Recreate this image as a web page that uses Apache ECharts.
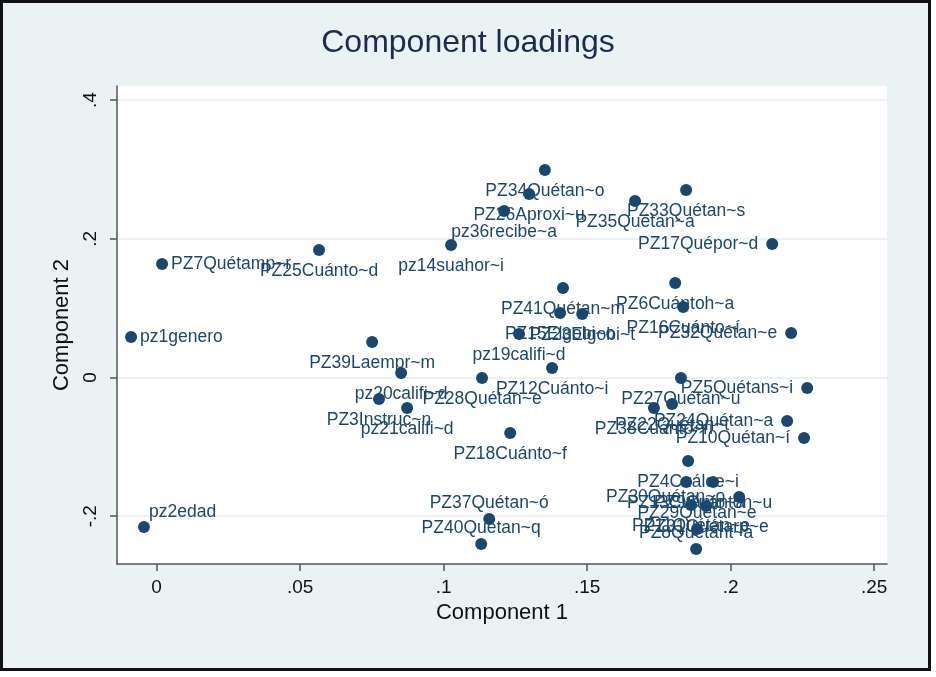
<!DOCTYPE html>
<html>
<head>
<meta charset="utf-8">
<title>Component loadings</title>
<script src="https://cdn.jsdelivr.net/npm/echarts@6/dist/echarts.min.js"></script>
<style>
  html, body { margin: 0; padding: 0; background: #ffffff; }
  #chart { width: 936px; height: 677px; }
</style>
</head>
<body>
<div id="chart"></div>
<script>
// Variable names (abbreviated as Stata shows them)
const varNames = [
  'pz1genero', 'pz2edad', 'PZ3Instruc~n', 'PZ4Cuálee~i', 'PZ5Quétans~i',
  'PZ6Cuántoh~a', 'PZ7Quétamp~r', 'PZ8Quétant~a', 'PZ9Cuánton~u', 'PZ10Quétan~í',
  'PZ11Quétan~e', 'PZ12Cuánto~i', 'PZ13Cuánto~a', 'pz14suahor~i', 'PZ15Elgobi~o',
  'PZ16Cuánto~í', 'PZ17Quépor~d', 'PZ18Cuánto~f', 'pz19califi~d', 'pz20califi~d',
  'pz21califi~d', 'PZ22Quétan~t', 'PZ23Elgobi~t', 'PZ24Quétan~a', 'PZ25Cuánto~d',
  'PZ26Aproxi~u', 'PZ27Quétan~u', 'PZ28Quétan~e', 'PZ29Quétan~e', 'PZ30Quétan~o',
  'PZ31Quétarp~e', 'PZ32Quétan~e', 'PZ33Quétan~s', 'PZ34Quétan~o', 'PZ35Quétan~a',
  'pz36recibe~a', 'PZ37Quétan~ó', 'PZ38Cuánto~n', 'PZ39Laempr~m', 'PZ40Quétan~q',
  'PZ41Quétan~m'
];

// Loadings on the first component
const component1 = [
  -0.0089, -0.0044, 0.0775, 0.1852, 0.2267,
  0.1807, 0.0019, 0.1880, 0.1939, 0.2256,
  0.1862, 0.1378, 0.1845, 0.1026, 0.1406,
  0.1835, 0.2145, 0.1232, 0.1263, 0.0852,
  0.0873, 0.1796, 0.1483, 0.2197, 0.0566,
  0.1298, 0.1827, 0.1134, 0.1883, 0.2030,
  0.1915, 0.2211, 0.1845, 0.1353, 0.1667,
  0.1211, 0.1159, 0.1733, 0.0751, 0.1131,
  0.1416
];

// Loadings on the second component
const component2 = [
  0.0584, -0.2155, -0.0310, -0.1204, -0.0151,
  0.1362, 0.1636, -0.2473, -0.1507, -0.0872,
  -0.1838, 0.0137, -0.1507, 0.1910, 0.0930,
  0.1016, 0.1925, -0.0800, 0.0627, 0.0065,
  -0.0440, -0.0382, 0.0916, -0.0627, 0.1838,
  0.2646, -0.0007, -0.0007, -0.2184, -0.1723,
  -0.1853, 0.0642, 0.2703, 0.2992, 0.2545,
  0.2401, -0.2040, -0.0440, 0.0512, -0.2401,
  0.1290
];

// Tick values for both axes
const xTicks = [0, 0.05, 0.1, 0.15, 0.2, 0.25];
const yTicks = [-0.2, 0, 0.2, 0.4];

// Marker-label placement (clock positions); anything not listed sits below its marker
const labelSide = {
  'pz1genero': 'right', 'PZ7Quétamp~r': 'right', 'pz2edad': 'topright',
  'PZ5Quétans~i': 'left', 'PZ10Quétan~í': 'left', 'PZ17Quépor~d': 'left',
  'PZ24Quétan~a': 'left', 'PZ30Quétan~o': 'left', 'PZ32Quétan~e': 'left',
  'PZ8Quétant~a': 'top', 'PZ29Quétan~e': 'top', 'PZ37Quétan~ó': 'top',
  'PZ40Quétan~q': 'top'
};

const navy = '#1a476f';
const fontFamily = '"Liberation Sans", Arial, Helvetica, sans-serif';

// Stata-style number format: drop the leading zero
function stataNum(v) {
  const r = Math.round(v * 1000) / 1000;
  if (r === 0) return '0';
  let s = String(Math.abs(r)).replace(/^0/, '');
  return (r < 0 ? '-' : '') + s;
}

function labelFor(side) {
  switch (side) {
    case 'right': return { position: 'right', distance: 3 };
    case 'left': return { position: 'left', distance: 8 };
    case 'top': return { position: 'top', distance: 1 };
    case 'topright': return { position: [11, -9], align: 'left', verticalAlign: 'middle' };
    default: return { position: 'bottom', distance: 6 };
  }
}

const points = varNames.map((name, i) => ({
  name: name,
  value: [component1[i], component2[i]],
  label: labelFor(labelSide[name])
}));

const chart = echarts.init(document.getElementById('chart'), null, { renderer: 'canvas' });

chart.setOption({
  backgroundColor: '#ffffff',
  animation: false,
  graphic: [{
    type: 'rect',
    z: -10,
    silent: true,
    shape: { x: 1.5, y: 1.5, width: 928, height: 668 },
    style: { fill: '#eaf2f3', stroke: '#111111', lineWidth: 3 }
  }],
  title: {
    text: 'Component loadings',
    left: 'center',
    top: 22,
    textStyle: { fontFamily: fontFamily, fontSize: 32, fontWeight: 'normal', color: '#1a2d4d' }
  },
  grid: {
    left: 117, right: 49, top: 86, bottom: 113,
    show: true, backgroundColor: '#ffffff', borderWidth: 0
  },
  xAxis: {
    type: 'value',
    min: -0.0138, max: 0.2545,
    name: 'Component 1',
    nameLocation: 'middle',
    nameGap: 38,
    nameTextStyle: { fontFamily: fontFamily, fontSize: 22, color: '#111111' },
    axisLine: { show: true, onZero: false, lineStyle: { color: '#555555', width: 1.5 } },
    axisTick: { show: true, length: 7, customValues: xTicks, lineStyle: { color: '#555555', width: 1.5 } },
    axisLabel: {
      customValues: xTicks, margin: 14,
      formatter: stataNum,
      fontFamily: fontFamily, fontSize: 19, color: '#111111'
    },
    splitLine: { show: false }
  },
  yAxis: {
    type: 'value',
    min: -0.269, max: 0.4203,
    name: 'Component 2',
    nameLocation: 'middle',
    nameRotate: 90,
    nameGap: 40,
    nameTextStyle: { fontFamily: fontFamily, fontSize: 22, color: '#111111' },
    axisLine: { show: true, onZero: false, lineStyle: { color: '#555555', width: 1.5 } },
    axisTick: { show: true, length: 7, customValues: yTicks, lineStyle: { color: '#555555', width: 1.5 } },
    axisLabel: {
      customValues: yTicks, margin: 17, rotate: 90,
      formatter: stataNum,
      fontFamily: fontFamily, fontSize: 19, color: '#111111'
    },
    splitLine: { show: true, lineStyle: { color: '#eaf2f3', width: 2 } }
  },
  series: [{
    type: 'scatter',
    symbol: 'circle',
    symbolSize: 12,
    itemStyle: { color: navy, opacity: 1 },
    label: {
      show: true,
      formatter: '{b}',
      fontFamily: fontFamily,
      fontSize: 17.5,
      color: navy
    },
    labelLayout: { hideOverlap: false },
    data: points
  }]
});
</script>
</body>
</html>
